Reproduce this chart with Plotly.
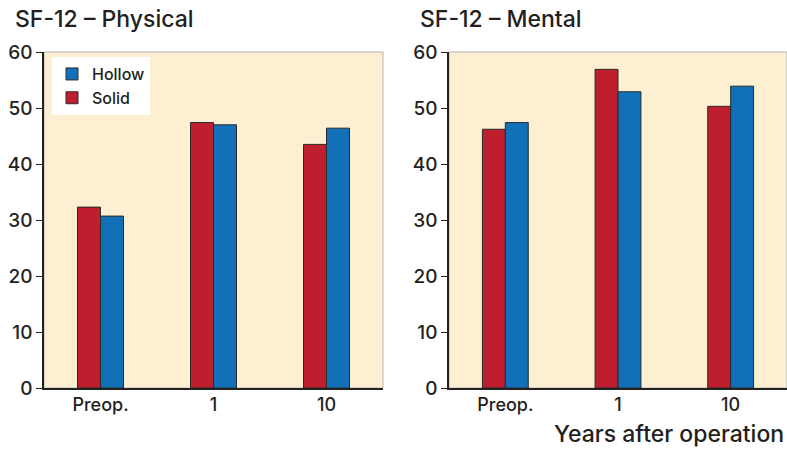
import plotly.graph_objects as go

categories = ["Preop.", "1", "10"]
physical_solid = [32.3, 47.4, 43.5]
physical_hollow = [30.7, 47.0, 46.4]
mental_solid = [46.2, 56.9, 50.3]
mental_hollow = [47.4, 52.9, 53.9]
y_ticks = [0, 10, 20, 30, 40, 50, 60]

RED = "#BE1E2D"
BLUE = "#1170B8"
TXT = "#231F20"
FONT = "Inter"
WT = 500

W, H = 787, 449
fig = go.Figure()

fig.add_trace(go.Bar(x=categories, y=physical_solid, name="Solid", marker=dict(color=RED, line=dict(color="#2a2a2a", width=1)),
                     xaxis="x", yaxis="y", legendgroup="s"))
fig.add_trace(go.Bar(x=categories, y=physical_hollow, name="Hollow", marker=dict(color=BLUE, line=dict(color="#2a2a2a", width=1)),
                     xaxis="x", yaxis="y", legendgroup="h"))
fig.add_trace(go.Bar(x=categories, y=mental_solid, name="Solid", marker=dict(color=RED, line=dict(color="#2a2a2a", width=1)),
                     xaxis="x2", yaxis="y2", showlegend=False, legendgroup="s"))
fig.add_trace(go.Bar(x=categories, y=mental_hollow, name="Hollow", marker=dict(color=BLUE, line=dict(color="#2a2a2a", width=1)),
                     xaxis="x2", yaxis="y2", showlegend=False, legendgroup="h"))

axis_x = dict(showgrid=False, zeroline=False, showline=True, linecolor="#222", linewidth=1.5,
              ticks="", tickfont=dict(size=18, color=TXT, family=FONT, weight=WT), range=[-0.5, 2.5], fixedrange=True)
axis_y = dict(showgrid=False, zeroline=False, showline=True, linecolor="#222", linewidth=1.5,
              ticks="outside", ticklen=6, tickwidth=1.2, tickcolor="#222",
              tickvals=y_ticks, range=[0, 60], tickfont=dict(size=19, color=TXT, family=FONT, weight=WT))

fig.update_layout(
    width=W, height=H,
    margin=dict(l=0, r=0, t=52, b=61),
    paper_bgcolor="white",
    plot_bgcolor="#FDEFD2",
    barmode="group", bargap=0.593, bargroupgap=0,
    font=dict(family=FONT, color=TXT),
    xaxis=dict(axis_x, domain=[44 / W, 383 / W], anchor="y"),
    yaxis=dict(axis_y, domain=[0, 1], anchor="x"),
    xaxis2=dict(axis_x, domain=[449 / W, 1.0], anchor="y2"),
    yaxis2=dict(axis_y, domain=[0, 1], anchor="x2"),
    legend=dict(x=52 / W, y=0.985, xanchor="left", yanchor="top", bgcolor="white",
                traceorder="reversed", font=dict(size=16, color=TXT, family=FONT, weight=WT),
                itemwidth=30, tracegroupgap=0),
    shapes=[
        dict(type="rect", xref="x domain", yref="y domain", x0=0, x1=1, y0=0, y1=1,
             line=dict(color="#b5b5b5", width=1), layer="below"),
        dict(type="rect", xref="x2 domain", yref="y2 domain", x0=0, x1=1, y0=0, y1=1,
             line=dict(color="#b5b5b5", width=1), layer="below"),
    ],
    annotations=[
        dict(text="SF-12 – Physical", xref="paper", yref="paper", x=13 / W, y=(388 - 19) / 336,
             xanchor="left", yanchor="middle", showarrow=False, font=dict(size=23, color=TXT, family=FONT, weight=WT)),
        dict(text="SF-12 – Mental", xref="paper", yref="paper", x=418 / W, y=(388 - 19) / 336,
             xanchor="left", yanchor="middle", showarrow=False, font=dict(size=23, color=TXT, family=FONT, weight=WT)),
        dict(text="Years after operation", xref="paper", yref="paper", x=786 / W, y=(388 - 434) / 336,
             xanchor="right", yanchor="middle", showarrow=False, font=dict(size=23, color=TXT, family=FONT, weight=WT)),
    ],
)

fig.write_html("out.html", config={"displayModeBar": False},
               post_script="document.body.style.margin='0';document.body.style.overflow='hidden';")
